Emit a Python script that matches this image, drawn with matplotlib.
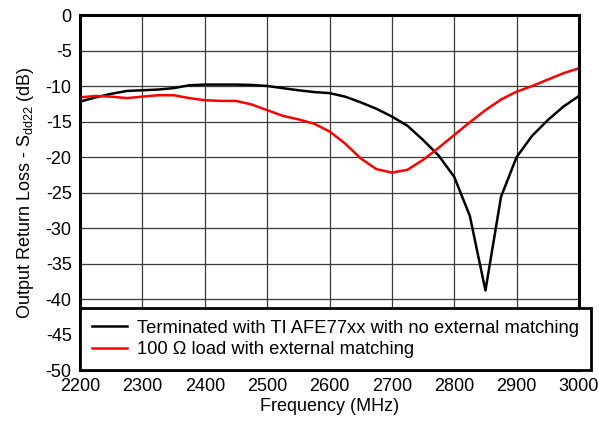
import matplotlib
matplotlib.use("Agg")
import matplotlib.pyplot as plt

plt.rcParams['font.family'] = ['Liberation Sans', 'DejaVu Sans']
plt.rcParams['axes.unicode_minus'] = False

freq_mhz = [2200, 2225, 2250, 2275, 2300, 2325, 2350, 2375, 2400, 2425, 2450,
            2475, 2500, 2525, 2550, 2575, 2600, 2625, 2650, 2675, 2700, 2725,
            2750, 2775, 2800, 2825, 2850, 2875, 2900, 2925, 2950, 2975, 3000]

sdd22_afe = [-12.2, -11.6, -11.1, -10.7, -10.6, -10.5, -10.3, -9.9, -9.8, -9.8,
             -9.8, -9.85, -10.0, -10.3, -10.6, -10.85, -11.0, -11.5, -12.3,
             -13.2, -14.3, -15.6, -17.6, -19.8, -22.8, -28.3, -38.8, -25.6,
             -20.0, -17.0, -14.8, -12.9, -11.4]

sdd22_100ohm = [-11.6, -11.4, -11.5, -11.7, -11.5, -11.3, -11.3, -11.7, -12.0,
                -12.1, -12.1, -12.6, -13.4, -14.2, -14.7, -15.3, -16.4, -18.1,
                -20.2, -21.7, -22.2, -21.8, -20.4, -18.7, -16.9, -15.1, -13.4,
                -11.9, -10.8, -10.0, -9.1, -8.2, -7.5]

x_ticks = list(range(2200, 3001, 100))
y_ticks = list(range(-50, 1, 5))

labels = ["Terminated with TI AFE77xx with no external matching",
          "100 \u03a9 load with external matching"]

fig = plt.figure(figsize=(5.99, 4.25), dpi=100)
ax = fig.add_axes([0.1336, 0.1294, 0.8330, 0.8353])

ax.plot(freq_mhz, sdd22_afe, color='black', lw=1.8, label=labels[0])
ax.plot(freq_mhz, sdd22_100ohm, color='#ff0000', lw=1.8, label=labels[1])

ax.set_xlim(2200, 3000)
ax.set_ylim(-50, 0)
ax.set_xticks(x_ticks)
ax.set_yticks(y_ticks)
ax.tick_params(axis='both', which='both', length=0, labelsize=13, pad=6)
ax.grid(True, color='#3a3a3a', lw=0.9)
ax.set_axisbelow(True)
for sp in ax.spines.values():
    sp.set_linewidth(2.2)
    sp.set_color('black')

ax.set_xlabel("Frequency (MHz)", fontsize=13, labelpad=2)
ax.set_ylabel("Output Return Loss - S$_{\\mathregular{dd22}}$ (dB)", fontsize=13, labelpad=7)

leg = ax.legend(loc='lower left', bbox_to_anchor=(0.0, 0.0), borderaxespad=0,
                fontsize=13.2, frameon=True, fancybox=False, edgecolor='black',
                framealpha=1, handlelength=1.9, handletextpad=0.55,
                borderpad=0.65, labelspacing=0.25)
leg.get_frame().set_linewidth(2.0)

fig.savefig("out.png", dpi=100)
